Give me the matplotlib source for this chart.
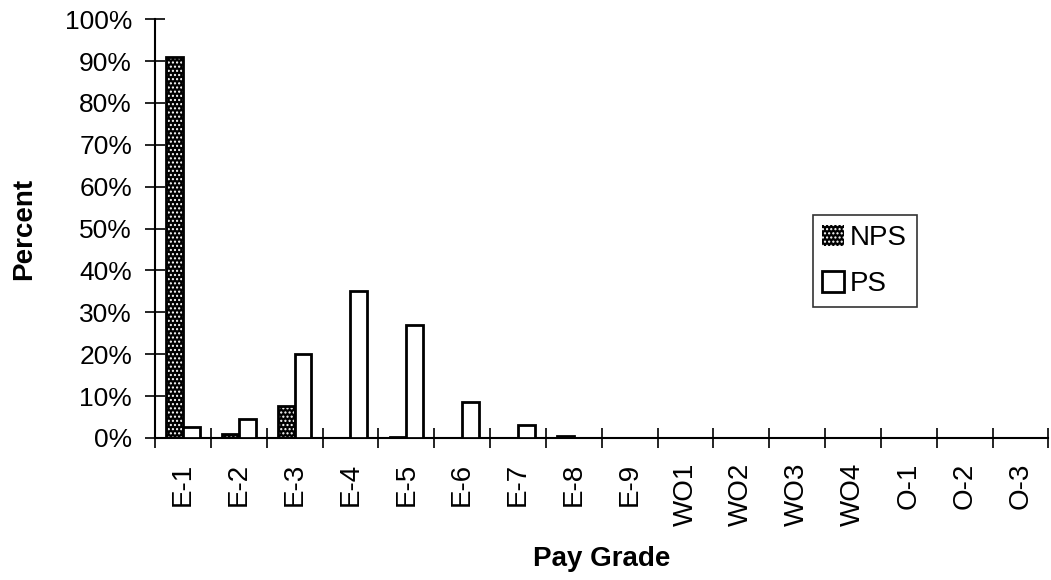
import numpy as np
import matplotlib.pyplot as plt
from matplotlib.patches import Patch

plt.rcParams['font.family'] = ['Liberation Sans', 'DejaVu Sans']

grades = ['E-1', 'E-2', 'E-3', 'E-4', 'E-5', 'E-6', 'E-7', 'E-8', 'E-9',
          'WO1', 'WO2', 'WO3', 'WO4', 'O-1', 'O-2', 'O-3']
nps = [91.0, 1.0, 7.5, 0.0, 0.3, 0.0, 0.0, 0.5, 0.0,
       0.0, 0.0, 0.0, 0.0, 0.0, 0.0, 0.0]
ps = [2.5, 4.5, 20.0, 35.0, 27.0, 8.5, 3.0, 0.0, 0.0,
      0.0, 0.0, 0.0, 0.0, 0.0, 0.0, 0.0]

fig = plt.figure(figsize=(10.51, 5.8), dpi=100)
ax = fig.add_axes([0.1475, 0.245, 0.85, 0.722])

x = np.arange(len(grades))
w = 0.3

# NPS: dark stipple fill, then black outline on top
ax.bar(x - w / 2, nps, w, color='black', edgecolor='white', hatch='....',
       linewidth=0, zorder=2)
ax.bar(x - w / 2, nps, w, fill=False, edgecolor='black', linewidth=2, zorder=3)
ax.bar(x + w / 2, ps, w, color='white', edgecolor='black', linewidth=2, zorder=3)

ax.set_xlim(-0.5, len(grades) - 0.5)
ax.set_ylim(0, 100)
ax.set_yticks(np.arange(0, 101, 10))
ax.set_yticklabels([f'{v}%' for v in range(0, 101, 10)], fontsize=19)
ax.tick_params(axis='y', direction='inout', length=15, width=1.2, pad=9)

ax.set_xticks(x)
ax.set_xticklabels(grades, rotation=90, fontsize=20)
ax.tick_params(axis='x', which='major', length=0, pad=18)
ax.set_xticks(np.arange(-0.5, len(grades), 1), minor=True)
ax.tick_params(axis='x', which='minor', direction='inout', length=15, width=1.2)

for s in ['top', 'right']:
    ax.spines[s].set_visible(False)
ax.spines['left'].set_linewidth(1.5)
ax.spines['bottom'].set_linewidth(1.5)

ax.set_ylabel('Percent', fontsize=20, fontweight='bold', labelpad=20)
ax.set_xlabel('Pay Grade', fontsize=20, fontweight='bold', labelpad=14)

handles = [Patch(facecolor='black', edgecolor='white', hatch='....', linewidth=0, label='NPS'),
           Patch(facecolor='white', edgecolor='black', linewidth=2, label='PS')]
leg = ax.legend(handles=handles, loc='upper left', bbox_to_anchor=(0.736, 0.532),
                fontsize=20, frameon=True, fancybox=False, handlelength=0.8,
                handleheight=0.8, handletextpad=0.2, borderpad=0.35, labelspacing=0.7,
                borderaxespad=0)
leg.get_frame().set_edgecolor('black')
leg.get_frame().set_linewidth(1.2)

fig.savefig('out.png', dpi=100, facecolor='white')
